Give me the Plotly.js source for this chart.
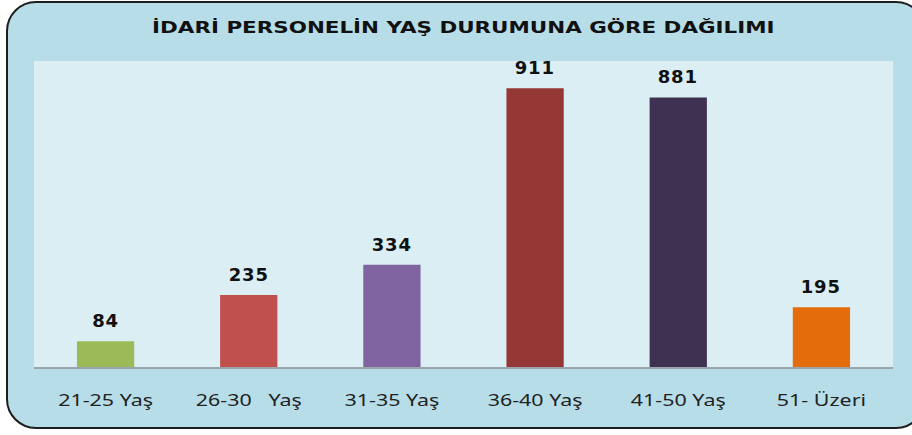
<!DOCTYPE html>
<html>
<head>
<meta charset="utf-8">
<script src="https://cdn.plot.ly/plotly-3.0.1.min.js"></script>
<style>
html,body{margin:0;padding:0;background:#ffffff;width:912px;height:435px;overflow:hidden;}
#frame{position:absolute;left:6px;top:1px;width:920px;height:428px;background:#b7dde8;border:2px solid #1e1e1e;border-radius:30px;box-sizing:border-box;}
#chart{position:absolute;left:0;top:0;width:912px;height:435px;}
#chart .g-gtitle{transform-box:fill-box;transform-origin:center;transform:scaleX(1.34);}
#chart g.xtick{transform-box:fill-box;transform-origin:center;transform:scaleX(1.3);}
#chart .annotation-text{letter-spacing:0.8px;}
</style>
</head>
<body>
<div id="frame"></div>
<div id="chart"></div>
<script>
const categories = ["21-25 Yaş", "26-30   Yaş", "31-35 Yaş", "36-40 Yaş", "41-50 Yaş", "51- Üzeri"];
const values = [84, 235, 334, 911, 881, 195];
const barColors = ["#9bbb59", "#c0504d", "#8064a2", "#953735", "#3f3151", "#e46c0a"];
const chartTitle = "İDARİ PERSONELİN YAŞ DURUMUNA GÖRE DAĞILIMI";

const trace = {
  type: "bar",
  x: categories,
  y: values,
  marker: {color: barColors, line: {width: 0}},
  hoverinfo: "none"
};

const annotations = categories.map((c, i) => ({
  x: c, y: values[i], xref: "x", yref: "y",
  text: String(values[i]),
  showarrow: false,
  yanchor: "bottom",
  yshift: 8,
  font: {family: "DejaVu Sans", size: 18, color: "#111111", weight: "bold"}
}));

const layout = {
  width: 912, height: 435,
  margin: {l: 34, r: 19, t: 61, b: 68},
  paper_bgcolor: "rgba(0,0,0,0)",
  plot_bgcolor: "#dbeef4",
  bargap: 0.6,
  showlegend: false,
  title: {
    text: "<b>" + chartTitle + "</b>",
    x: 0.508, xanchor: "center",
    y: 0.938, yanchor: "middle",
    font: {family: "DejaVu Sans", size: 16, color: "#111111"}
  },
  xaxis: {
    type: "category",
    showline: true, linecolor: "#9aa6ab", linewidth: 2,
    ticks: "", showgrid: false, zeroline: false,
    ticklabelstandoff: 17,
    tickfont: {family: "Noto Sans", size: 16.5, color: "#222222"}
  },
  yaxis: {
    range: [0, 1000],
    visible: false, showgrid: false, zeroline: false, fixedrange: true
  },
  annotations: annotations
};

Plotly.newPlot("chart", [trace], layout, {displayModeBar: false, staticPlot: true});
</script>
</body>
</html>
